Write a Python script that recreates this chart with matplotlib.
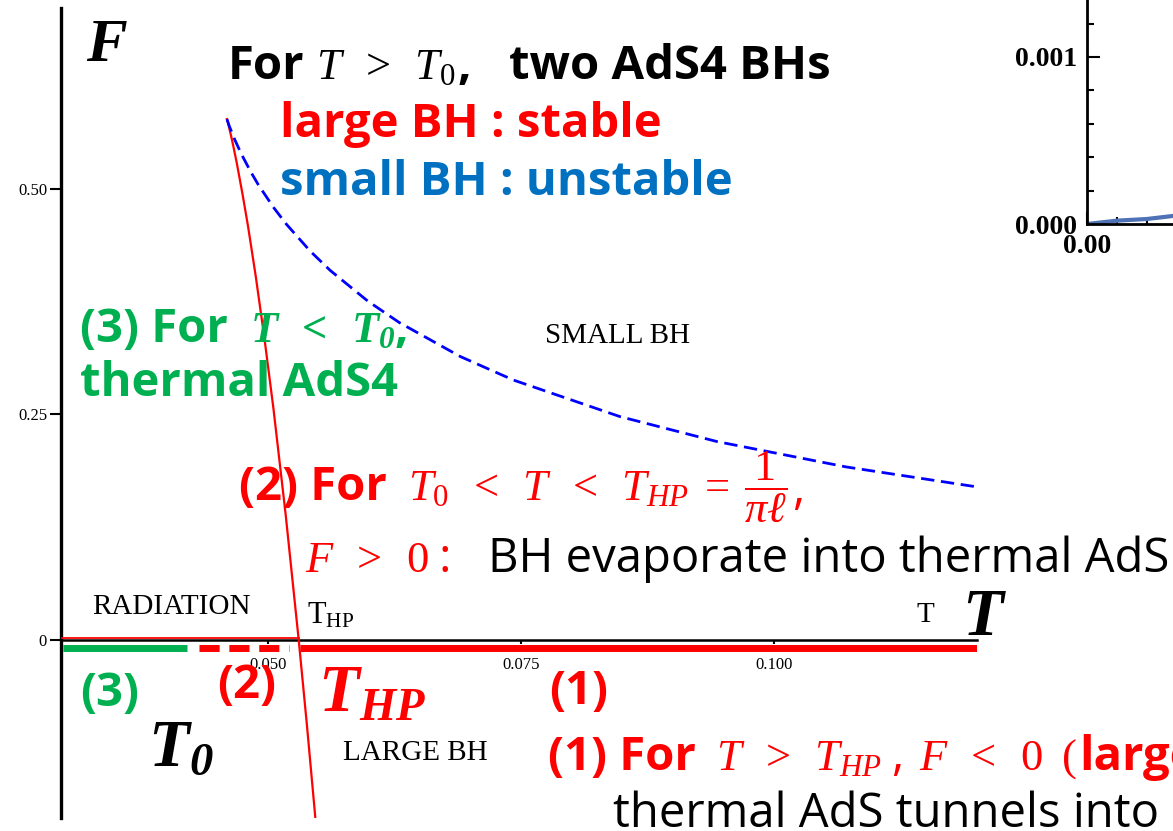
import matplotlib
matplotlib.use("Agg")
import matplotlib.pyplot as plt
import matplotlib.transforms as mtransforms
from matplotlib.ticker import MultipleLocator, FormatStrFormatter

# free energy F vs temperature T, AdS4 black holes
large_T = [0.04595, 0.04598, 0.04606, 0.04627, 0.04656, 0.04693, 0.04752, 0.04804,
           0.04880, 0.04964, 0.05055, 0.05176, 0.05305, 0.05386, 0.05469]
large_F = [0.577, 0.576, 0.5725, 0.563, 0.5484, 0.5281, 0.4922, 0.4582,
           0.4030, 0.3359, 0.2565, 0.1389, 0.0, -0.0941, -0.1965]

small_T = [0.04595, 0.04600, 0.04619, 0.04673, 0.04738, 0.04829, 0.04907, 0.05057,
           0.05182, 0.05418, 0.05615, 0.05987, 0.0630, 0.06903, 0.07427, 0.08478,
           0.09439, 0.1072, 0.1199]
small_F = [0.577, 0.5754, 0.5691, 0.5541, 0.5383, 0.5189, 0.504, 0.4790,
           0.4607, 0.4308, 0.4095, 0.3755, 0.3516, 0.3140, 0.288, 0.2476,
           0.2199, 0.1917, 0.170]

T_HP = 0.05305
radiation_T = [0.02955, T_HP]

# phase ranges marked under the T axis
phase3_T = [0.0297, 0.0420]
phase2_T = [0.0432, 0.0521]
phase1_T = [0.0532, 0.1201]

x_ticks = [0.050, 0.075, 0.100]
x_labels = ["0.050", "0.075", "0.100"]
y_ticks = [0, 0.25, 0.50]
y_labels = ["0", "0.25", "0.50"]

# small inset curve
inset_x = [0.0, 0.005, 0.010, 0.0143, 0.02, 0.03]
inset_y = [0.0, 0.00002, 0.00003, 0.000048, 0.00009, 0.00018]

RED = "#FF0000"
BLUE = "#0070C0"
GREEN = "#00B050"
SERIF = "Liberation Serif"

plt.rcParams['font.family'] = ['Open Sans', 'DejaVu Sans']
plt.rcParams['mathtext.fontset'] = 'custom'
plt.rcParams['mathtext.rm'] = 'Liberation Serif'
plt.rcParams['mathtext.it'] = 'Liberation Serif:italic'
plt.rcParams['mathtext.bf'] = 'Liberation Serif:bold:italic'

W, H = 1173, 831
fig = plt.figure(figsize=(W / 100, H / 100), dpi=100)


def fx(x):
    return x / W


def fy(y):
    return 1 - y / H


ax = fig.add_axes([fx(61), fy(818), (977 - 61) / W, (818 - 8) / H])
ax.set_xlim(0.02955, 0.1201)
ax.set_ylim(-0.197, 0.700)
ax.patch.set_alpha(0)
for s in ["top", "right"]:
    ax.spines[s].set_visible(False)
ax.spines["bottom"].set_position(("data", 0))
ax.spines["bottom"].set_linewidth(1.8)
ax.spines["left"].set_linewidth(2.4)

ax.set_xticks(x_ticks)
ax.set_xticklabels(x_labels, fontfamily=SERIF, fontsize=12)
ax.set_yticks(y_ticks)
ax.set_yticklabels(y_labels, fontfamily=SERIF, fontsize=12)
ax.tick_params(axis="x", direction="out", length=3, width=1.5, pad=9)
ax.tick_params(axis="y", direction="out", length=8, width=1.5, pad=2)

ax.plot(large_T, large_F, color=RED, lw=1.6, zorder=4)
ax.plot(small_T, small_F, color="#0000FF", lw=2.0, dashes=(4.8, 2.4), zorder=4)

up = mtransforms.offset_copy(ax.transData, fig=fig, y=2, units="dots")
ax.plot(radiation_T, [0, 0], color=RED, lw=1.3, transform=up, zorder=3)

down = mtransforms.offset_copy(ax.transData, fig=fig, y=-8, units="dots")
ax.plot(phase3_T, [0, 0], color=GREEN, lw=5, solid_capstyle="butt", transform=down)
ax.plot(phase2_T, [0, 0], color=RED, lw=5, dashes=(2.9, 1.4),
        dash_capstyle="butt", transform=down)
ax.plot(phase1_T, [0, 0], color=RED, lw=5, solid_capstyle="butt", transform=down)

# inset (cut by the right edge)
ins = fig.add_axes([fx(1087), fy(224), 0.3, 224 / H])
ins.set_xlim(0, 0.0587)
ins.set_ylim(0, 0.001341)
ins.spines["top"].set_visible(False)
ins.spines["right"].set_visible(False)
ins.spines["left"].set_linewidth(2)
ins.spines["bottom"].set_linewidth(2)
ins.yaxis.set_major_locator(MultipleLocator(0.001))
ins.yaxis.set_minor_locator(MultipleLocator(0.0002))
ins.yaxis.set_major_formatter(FormatStrFormatter("%.3f"))
ins.xaxis.set_major_locator(MultipleLocator(0.02))
ins.xaxis.set_minor_locator(MultipleLocator(0.005))
ins.xaxis.set_major_formatter(FormatStrFormatter("%.2f"))
ins.tick_params(which="both", direction="in", width=1.5)
ins.tick_params(which="major", length=9, labelsize=20)
ins.tick_params(axis="y", which="major", pad=7)
ins.tick_params(axis="x", which="major", pad=7)
ins.tick_params(which="minor", length=5)
for lbl in ins.get_xticklabels() + ins.get_yticklabels():
    lbl.set_fontfamily(SERIF)
    lbl.set_fontweight("bold")
ins.plot(inset_x, inset_y, color="#4F72B6", lw=3, clip_on=True)


def put(x, y, s, **kw):
    kw.setdefault("ha", "left")
    kw.setdefault("va", "baseline")
    fig.text(fx(x), fy(y), s, **kw)


SZ = 34    # slide text
MZ = 32    # inline math
BIG = 48   # big axis symbols
bold = dict(weight="bold", fontsize=SZ)
plain = dict(fontsize=SZ)

put(86, 61, "F", family=SERIF, weight="bold", style="italic", fontsize=44)

# top note
put(228, 79, "For", **bold)
put(316, 79, r"$T\;\;>\;\;T_0$", fontsize=MZ)
put(458, 79, ",", **bold)
put(509, 79, "two AdS4 BHs", **bold)
put(280, 137, "large BH : stable", color=RED, **bold)
put(280, 195, "small BH : unstable", color=BLUE, **bold)

# (3)
put(80, 342, "(3) For", color=GREEN, **bold)
put(250, 342, r"$\mathbf{T\;\;<\;\;T_0}$", fontsize=MZ, color=GREEN)
put(395, 342, ",", color=GREEN, **bold)
put(80, 396, "thermal AdS4", color=GREEN, **bold)
put(545, 343, "SMALL BH", family=SERIF, fontsize=21)

# (2)
put(239, 500, "(2) For", color=RED, **bold)
put(408, 500, r"$T_0\;\;<\;\;T\;\;<\;\;T_{HP}\;=\;\dfrac{1}{\pi\ell}$",
    fontsize=MZ, color=RED)
put(792, 504, ",", color=RED, **plain)
put(305, 572, r"$F\;\;>\;\;0$", fontsize=MZ, color=RED)
put(438, 572, ":", color=RED, **plain)
put(488, 572, "BH evaporate into thermal AdS", **plain)

# axis annotations
put(92, 614, "RADIATION", family=SERIF, fontsize=21)
put(307, 623, r"$\mathrm{T}_{\mathrm{HP}}$", fontsize=22)
put(917, 622, "T", family=SERIF, fontsize=21)
put(962, 635, "T", family=SERIF, weight="bold", style="italic", fontsize=BIG)
put(80, 706, "(3)", color=GREEN, **bold)
put(217, 698, "(2)", color=RED, **bold)
put(318, 712, r"$\mathbf{T_{HP}}$", fontsize=BIG, color=RED)
put(549, 704, "(1)", color=RED, **bold)
put(148, 766, r"$\mathbf{T_0}$", fontsize=BIG)
put(343, 760, "LARGE BH", family=SERIF, fontsize=21)

# (1)
put(548, 770, "(1) For", color=RED, **bold)
put(716, 770, r"$T\;\;>\;\;T_{HP}$", fontsize=MZ, color=RED)
put(891, 770, ",", color=RED, **plain)
put(919, 770, r"$F\;\;<\;\;0$", fontsize=MZ, color=RED)
put(1061, 770, r"$($", fontsize=MZ, color=RED)
put(1079, 770, "large", color=RED, **bold)
put(613, 827, "thermal AdS tunnels into", **plain)

fig.savefig("out.png", dpi=100)
